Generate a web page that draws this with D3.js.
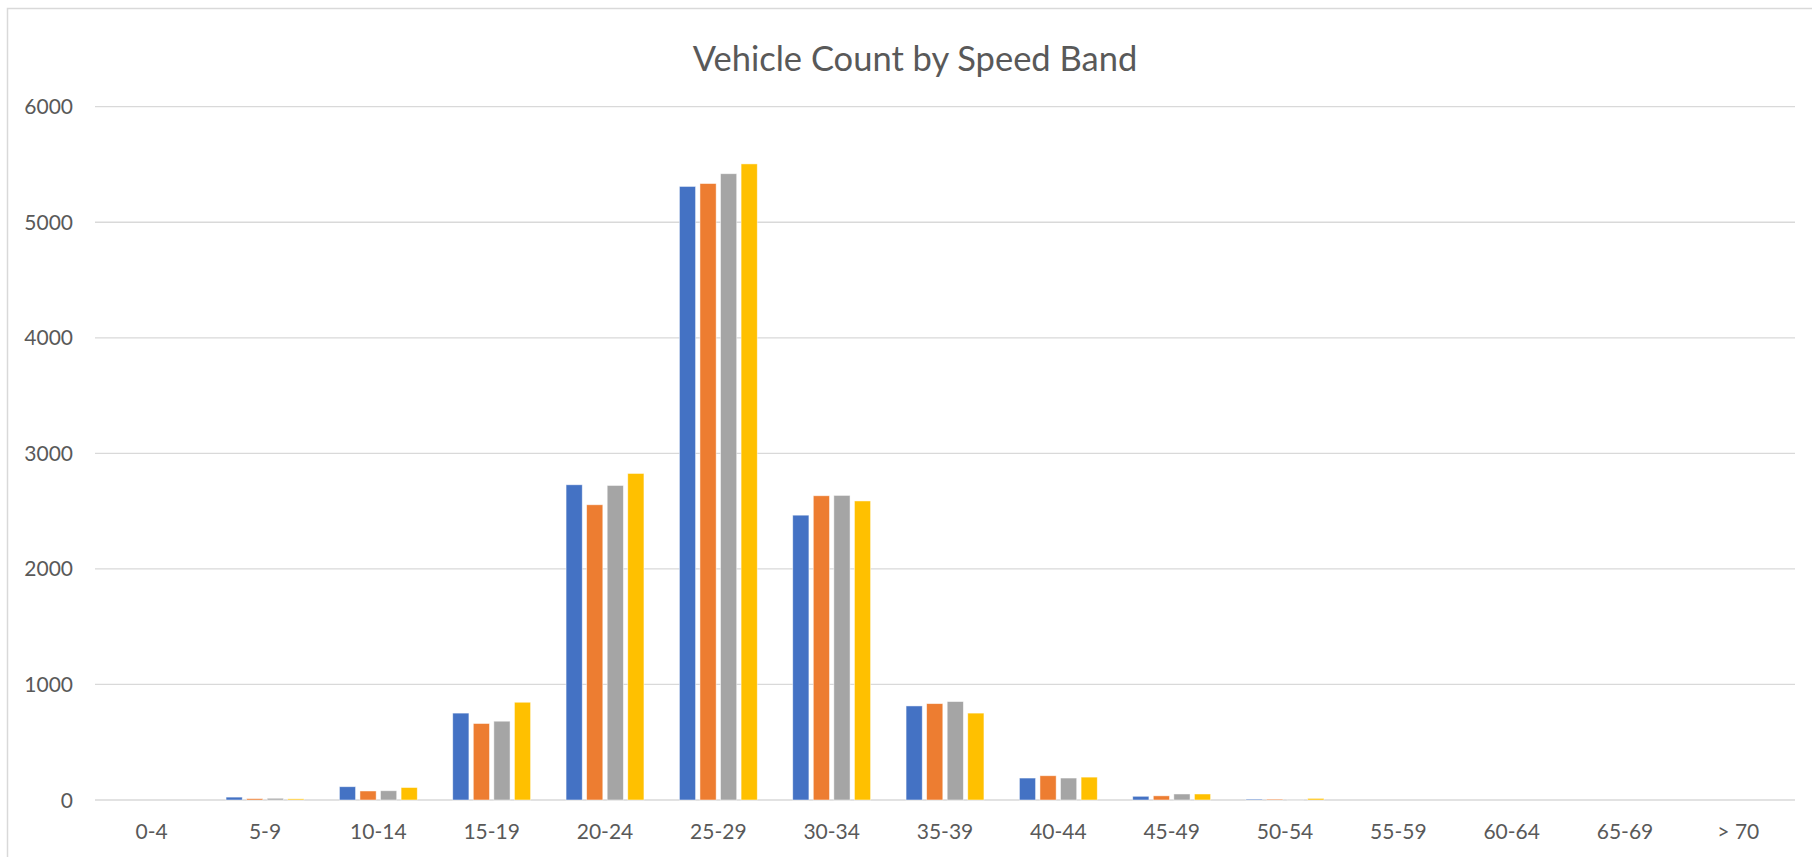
<!DOCTYPE html>
<html>
<head>
<meta charset="utf-8">
<script src="https://cdn.jsdelivr.net/npm/d3@7"></script>
<style>
  body { margin: 0; background: #fff; }
  text { font-family: Lato, "Noto Sans", sans-serif; fill: #595959; }
</style>
</head>
<body>
<div id="chart"></div>
<script>
// speed bands and counts per series (4 survey periods)
var bands = ["0-4", "5-9", "10-14", "15-19", "20-24", "25-29", "30-34", "35-39",
             "40-44", "45-49", "50-54", "55-59", "60-64", "65-69", "> 70"];
var series1 = [0, 25, 115, 752, 2728, 5310, 2465, 814, 190, 32, 8, 0, 0, 0, 0];
var series2 = [0, 12, 78, 662, 2555, 5335, 2633, 834, 210, 36, 8, 0, 0, 0, 0];
var series3 = [0, 15, 80, 682, 2722, 5420, 2636, 852, 190, 52, 5, 0, 0, 0, 0];
var series4 = [0, 10, 108, 846, 2826, 5505, 2588, 752, 198, 52, 14, 0, 0, 0, 0];
var yTicks = [0, 1000, 2000, 3000, 4000, 5000, 6000];
var colors = ["#4472c4", "#ed7d31", "#a5a5a5", "#ffc000"];

var w = 1812, h = 857;
var allSeries = [series1, series2, series3, series4];

var svg = d3.select("#chart").append("svg")
  .attr("width", w)
  .attr("height", h);

// chart area border
svg.append("rect")
  .attr("x", 7.5).attr("y", 8.5)
  .attr("width", w + 10).attr("height", h + 10)
  .attr("fill", "none")
  .attr("stroke", "#d9d9d9")
  .attr("stroke-width", 1.5);

var x = d3.scaleBand().domain(bands).range([95, 1795]).paddingInner(0).paddingOuter(0);
var y = d3.scaleLinear().domain([0, 6000]).range([800, 106.7]);

// Excel-style: overlap -27%, gap width 219%
var barW = x.bandwidth() / 7;
var pitch = barW * 1.27;
var groupW = barW * 4 + barW * 0.27 * 3;

// gridlines
svg.append("g")
  .selectAll("line")
  .data(yTicks)
  .enter()
  .append("line")
  .attr("x1", 95).attr("x2", 1795)
  .attr("y1", function(d) { return y(d); })
  .attr("y2", function(d) { return y(d); })
  .attr("stroke", "#d9d9d9")
  .attr("stroke-width", 1.3);

// y labels
svg.append("g")
  .selectAll("text")
  .data(yTicks)
  .enter()
  .append("text")
  .attr("x", 73)
  .attr("y", function(d) { return y(d); })
  .attr("dy", "0.36em")
  .attr("text-anchor", "end")
  .style("font-size", "21px")
  .text(function(d) { return d; });

// bars
allSeries.forEach(function(vals, s) {
  svg.append("g")
    .selectAll("rect")
    .data(vals)
    .enter()
    .append("rect")
    .attr("x", function(d, i) {
      return x(bands[i]) + (x.bandwidth() - groupW) / 2 + s * pitch;
    })
    .attr("y", function(d) { return y(d); })
    .attr("width", barW)
    .attr("height", function(d) { return y(0) - y(d); })
    .attr("fill", colors[s])
    .attr("stroke", "#fff")
    .attr("stroke-width", 0.8)
    .attr("stroke-opacity", 0.6);
});

// x labels
svg.append("g")
  .selectAll("text")
  .data(bands)
  .enter()
  .append("text")
  .attr("x", function(d) { return x(d) + x.bandwidth() / 2; })
  .attr("y", 839)
  .attr("text-anchor", "middle")
  .style("font-size", "21px")
  .text(function(d) { return d; });

// title
svg.append("text")
  .attr("x", 915)
  .attr("y", 71)
  .attr("text-anchor", "middle")
  .style("font-size", "34.5px")
  .text("Vehicle Count by Speed Band");
</script>
</body>
</html>
